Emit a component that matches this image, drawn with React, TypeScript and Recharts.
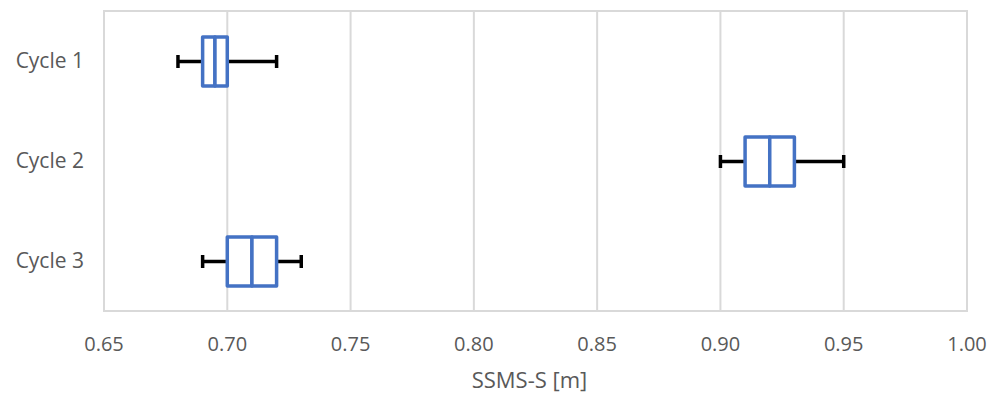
import React from 'react';
import {
  BarChart,
  Bar,
  XAxis,
  YAxis,
  CartesianGrid,
  ReferenceArea,
  Label,
} from 'recharts';

const categories = ['Cycle 1', 'Cycle 2', 'Cycle 3'];
const minValues = [0.68, 0.9, 0.69];
const q1Values = [0.69, 0.91, 0.7];
const medianValues = [0.695, 0.92, 0.71];
const q3Values = [0.7, 0.93, 0.72];
const maxValues = [0.72, 0.95, 0.73];
const xTicks = [0.65, 0.7, 0.75, 0.8, 0.85, 0.9, 0.95, 1.0];

const data = categories.map((name, i) => ({
  name,
  whisker: [minValues[i], maxValues[i]],
  lowerBox: [q1Values[i], medianValues[i]],
  upperBox: [medianValues[i], q3Values[i]],
}));

const font = '"Open Sans", sans-serif';
const textColor = '#595959';
const gridColor = '#D9D9D9';
const boxColor = '#4472C4';

// whisker: horizontal line with end caps
const WhiskerShape = (props: any) => {
  const { x, y, width, height } = props;
  const cy = y + height / 2;
  const capHalf = 6.5;
  return (
    <g stroke="#000" strokeWidth={3.5}>
      <line x1={x} y1={cy} x2={x + width} y2={cy} />
      <line x1={x} y1={cy - capHalf} x2={x} y2={cy + capHalf} />
      <line x1={x + width} y1={cy - capHalf} x2={x + width} y2={cy + capHalf} />
    </g>
  );
};

const BoxShape = (props: any) => {
  const { x, y, width, height } = props;
  return (
    <rect
      x={x}
      y={y}
      width={width}
      height={height}
      fill="#fff"
      stroke={boxColor}
      strokeWidth={3.5}
      strokeLinejoin="round"
    />
  );
};

export default function App() {
  return (
    <div style={{ fontFamily: font }}>
      <BarChart
        width={985}
        height={388}
        data={data}
        layout="vertical"
        margin={{ top: 3, right: 26, left: 0, bottom: 5 }}
        barGap={-49}
      >
        <ReferenceArea
          x1={0.65}
          x2={1.0}
          fill="none"
          stroke={gridColor}
          strokeWidth={2}
          ifOverflow="extendDomain"
        />
        <CartesianGrid
          horizontal={false}
          vertical={true}
          stroke={gridColor}
          strokeWidth={2}
        />
        <XAxis
          type="number"
          domain={[0.65, 1.0]}
          ticks={xTicks}
          tickFormatter={(v: number) => v.toFixed(2)}
          tickLine={false}
          axisLine={{ stroke: gridColor, strokeWidth: 2 }}
          tickMargin={20}
          height={80}
          tick={{ fill: textColor, fontSize: 20, fontFamily: font }}
          allowDataOverflow
        >
          <Label
            value="SSMS-S [m]"
            position="insideBottom"
            offset={3}
            dx={-6}
            style={{ fill: textColor, fontSize: 22, fontFamily: font }}
          />
        </XAxis>
        <YAxis
          type="category"
          dataKey="name"
          width={96}
          tickLine={false}
          axisLine={false}
          tickMargin={14}
          tick={{ fill: textColor, fontSize: 21, fontFamily: font }}
        />
        <Bar
          dataKey="whisker"
          barSize={49}
          shape={<WhiskerShape />}
          isAnimationActive={false}
        />
        <Bar
          dataKey="lowerBox"
          barSize={49}
          shape={<BoxShape />}
          isAnimationActive={false}
        />
        <Bar
          dataKey="upperBox"
          barSize={49}
          shape={<BoxShape />}
          isAnimationActive={false}
        />
      </BarChart>
    </div>
  );
}
